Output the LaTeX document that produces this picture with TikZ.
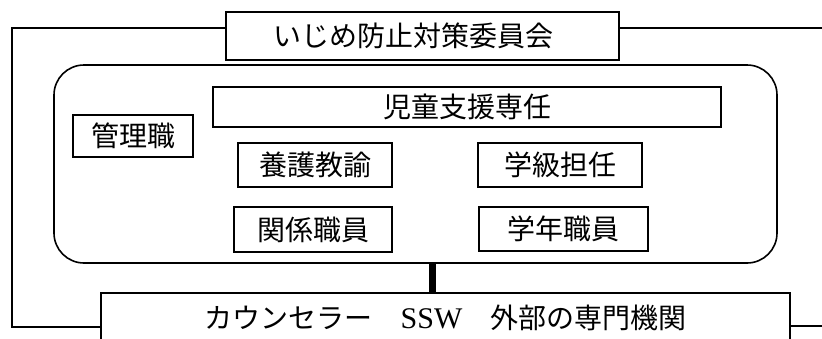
\documentclass[tikz,border=0pt]{standalone}
\usepackage{fontspec}
\newfontfamily\jp{Noto Sans CJK JP}
\newfontfamily\lat{Liberation Serif}
\begin{document}
\begin{tikzpicture}[x=1pt,y=-1pt,
  box/.style={draw, line width=1.6pt, rectangle, inner sep=0pt,
    font=\jp\fontsize{28}{28}\selectfont},
  wire/.style={line width=1.6pt},
  group/.style={draw, line width=1.6pt, rectangle, rounded corners=30pt, inner sep=0pt}]
\useasboundingbox (0,0) rectangle (822,338);
\clip (0,0) rectangle (822,338);
% main boxes
\node[box, minimum width=393pt, minimum height=48pt, text width=299pt, align=left, inner xsep=47pt] (top) at (422.5,36) {いじめ防止対策委員会};
\node[group, minimum width=723pt, minimum height=198pt] (grp) at (415.5,164) {};
\node[box, minimum width=689pt, minimum height=50pt] (bottom) at (445.5,318) {カウンセラー　{\lat\fontsize{30}{30}\selectfont SSW}　外部の専門機関};
% inner boxes
\node[box, minimum width=120pt, minimum height=42pt] (kanri) at (133,136) {管理職};
\node[box, minimum width=508pt, minimum height=40pt] (jido) at (467,107) {児童支援専任};
\node[box, minimum width=154pt, minimum height=44pt] (yogo) at (315,165) {養護教諭};
\node[box, minimum width=164pt, minimum height=44pt] (gakkyu) at (560,165) {学級担任};
\node[box, minimum width=158pt, minimum height=45pt] (kankei) at (313,229.5) {関係職員};
\node[box, minimum width=169pt, minimum height=44pt] (gakunen) at (563.5,229) {学年職員};
% frame
\coordinate (fl) at (12,0);
\coordinate (fr) at (830,0);
\coordinate (cx) at (432,0);
\coordinate (tl) at ([yshift=8pt]top.west);
\coordinate (tr) at ([yshift=8pt]top.east);
\coordinate (bl) at ([yshift=-9pt]bottom.west);
\coordinate (br) at ([yshift=-8pt]bottom.east);
\draw[wire] (tl) -| (bl -| fl) -- (bl);
\draw[wire] (tr) -- (tr -| fr);
\draw[wire] (br) -- (br -| fr);
\draw[line width=7pt] (cx |- grp.south) -- (cx |- bottom.north);
\end{tikzpicture}
\end{document}
